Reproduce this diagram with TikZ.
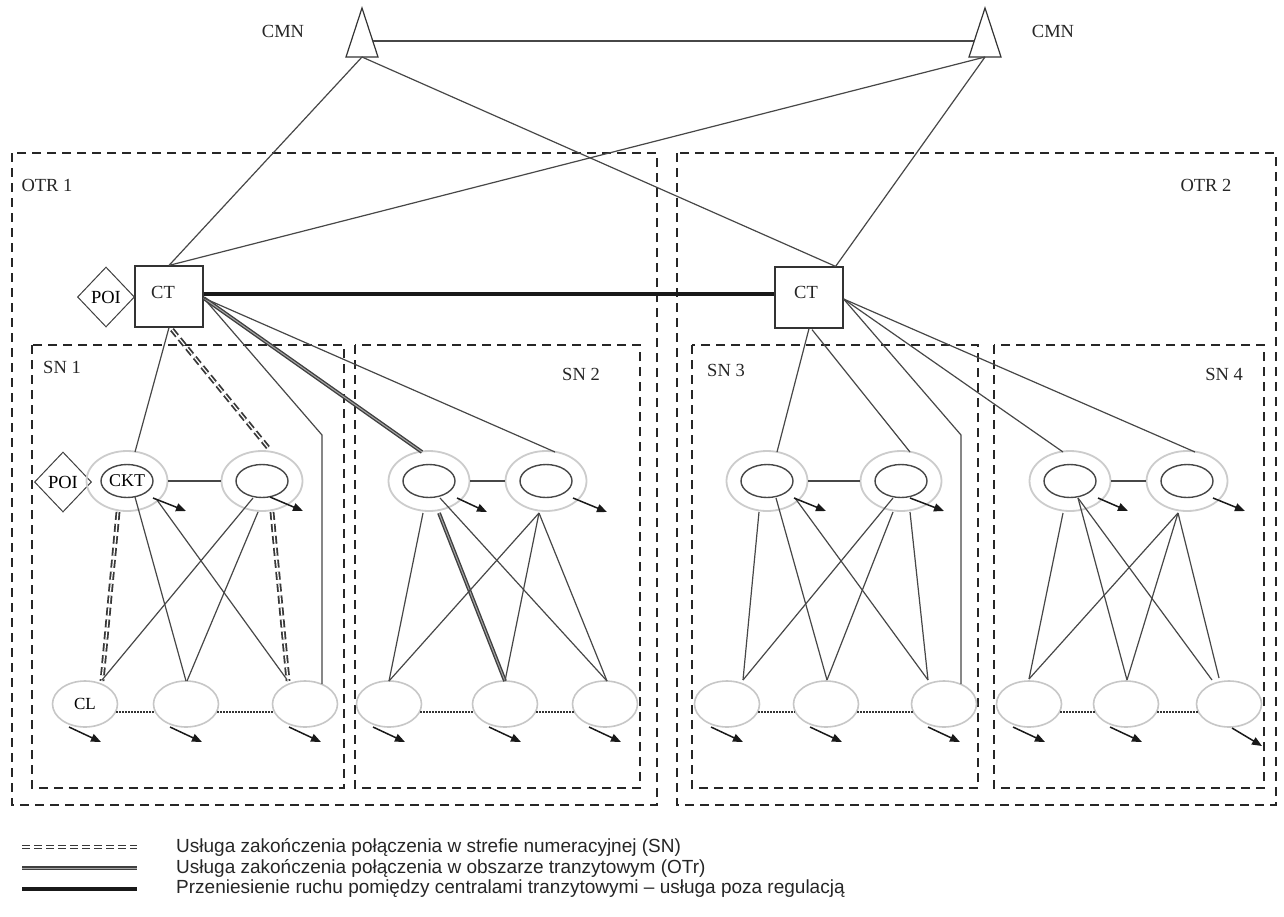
\documentclass[tikz,border=0pt]{standalone}
\usepackage{fontspec}
\setmainfont{Liberation Serif}
\newfontfamily\legendfont{Liberation Sans}
\usetikzlibrary{shapes.geometric,arrows.meta,calc}
\newcommand\ringnode[3]{%
  \node[ring] (#1) at (#2,481) {};
  \node[core] (#1c) at (#2,481) {#3};}
\newcommand\leafnode[3]{%
  \node[leaf] (#1) at (#2,704) {#3};}
\begin{document}
\begin{tikzpicture}[x=1pt,y=-1pt,
  lbl/.style={font=\fontsize{18.5}{18.5}\selectfont, inner sep=0pt, text=black!85},
  zone/.style={draw=black!85, line width=2.6pt, dash pattern=on 9pt off 6pt},
  conn/.style={draw=black!72, line width=1.2pt},
  ring/.style={ellipse, draw=black!20, line width=1.8pt, minimum width=81pt, minimum height=60pt, inner sep=0pt},
  core/.style={ellipse, draw=black!72, line width=1.4pt, minimum width=52pt, minimum height=33pt, inner sep=0pt, font=\fontsize{18}{18}\selectfont},
  leaf/.style={ellipse, draw=black!22, line width=1.6pt, minimum width=65pt, minimum height=46pt, inner sep=0pt, font=\fontsize{17}{17}\selectfont},
  snl/.style={draw=black!78, double=white, double distance=1.2pt, line width=1.8pt, dash pattern=on 8pt off 4pt},
  otrl/.style={draw=black!75, double=black!35, double distance=1pt, line width=1.4pt},
  trunk/.style={draw=black!90, line width=3.8pt},
  outarr/.style={draw=black!90, line width=1.5pt, -{Triangle[length=10pt,width=8pt]}},
  dotl/.style={draw=black!80, line width=1.8pt, dash pattern=on 1.6pt off 1.4pt},
  box/.style={draw=black!80, line width=1.2pt, minimum width=68pt, minimum height=61pt, inner sep=0pt},
  poi/.style={diamond, draw=black!75, line width=1pt, minimum width=57pt, minimum height=60pt, inner sep=0pt, aspect=1, font=\fontsize{18.5}{18.5}\selectfont},
  tri/.style={draw=black!80, line width=1.2pt},
  legtxt/.style={anchor=west, inner sep=0pt, text=black!85, font=\legendfont\fontsize{19}{19}\selectfont},
]
\fill[white] (0,0) rectangle (1284,916);
\useasboundingbox (0,0) rectangle (1284,916);

% zones
\draw[zone] (12,153) rectangle (657,805);
\draw[zone] (677,153) rectangle (1276,805);
\draw[zone] (32,345) rectangle (344,788);
\draw[zone] (355,345) rectangle (640,788);
\draw[zone] (692,345) rectangle (978,788);
\draw[zone] (994,345) rectangle (1264,788);

\node[lbl] at (47,185) {OTR 1};
\node[lbl] at (1206,185) {OTR 2};
\node[lbl] at (62,367) {SN 1};
\node[lbl] at (581,374) {SN 2};
\node[lbl] at (726,370) {SN 3};
\node[lbl] at (1224,374) {SN 4};

% CMN
\draw[tri] (362,8) -- (378,57) -- (346,57) -- cycle;
\draw[tri] (985,8) -- (1001,57) -- (969,57) -- cycle;
\coordinate (cmnL) at (362,57);
\coordinate (cmnR) at (985,57);
\coordinate (cmnLs) at (373,41);
\coordinate (cmnRs) at (974,41);
\node[lbl] at (283,31) {CMN};
\node[lbl] at (1053,31) {CMN};

% CT boxes
\node[box] (ct1) at (169,296.5) {};
\node[box] (ct2) at (809,297.5) {};
\node[lbl] at (163,292) {CT};
\node[lbl] at (806,292) {CT};
\node[poi] (poi1) at (106,297) {POI};
\node[poi] (poi2) at (63,482) {POI};

% rings and leaves
\ringnode{r11}{127}{CKT}
\ringnode{r12}{262}{}
\ringnode{r21}{429}{}
\ringnode{r22}{546}{}
\ringnode{r31}{767}{}
\ringnode{r32}{901}{}
\ringnode{r41}{1070}{}
\ringnode{r42}{1187}{}
\leafnode{l11}{85}{CL}
\leafnode{l12}{186}{}
\leafnode{l13}{305}{}
\leafnode{l21}{389}{}
\leafnode{l22}{505}{}
\leafnode{l23}{605}{}
\leafnode{l31}{727}{}
\leafnode{l32}{826}{}
\leafnode{l33}{944}{}
\leafnode{l41}{1029}{}
\leafnode{l42}{1126}{}
\leafnode{l43}{1229}{}

% CMN links
\draw[conn] (cmnLs) -- (cmnRs);
\draw[conn] (cmnL) -- (ct1.north);
\draw[conn] (cmnR) -- (ct1.north);
\draw[conn] (cmnL) -- ($(ct2.north east)+(-8,0)$);
\draw[conn] (cmnR) -- ($(ct2.north east)+(-8,0)$);

% trunk
\draw[trunk] ($(ct1.east)+(0,-2.5)$) -- ($(ct2.west)+(0,-3.5)$);

% CT1 to SN1/SN2
\draw[conn] (ct1.south) -- ($(r11)+(8,-29)$);
\draw[snl] ($(ct1.south)+(3,2)$) -- ($(r12)+(8,-31)$);
\draw[conn] ($(ct1.east)+(0,1.5)$) -- (322,435) -- ($(l13)+(17,-20)$);
\draw[otrl] ($(ct1.east)+(0,1.5)$) -- ($(r21)+(-7,-29)$);
\draw[conn] ($(ct1.east)+(0,1.5)$) -- ($(r22)+(9,-29)$);

% CT2 to SN3/SN4
\draw[conn] (ct2.south) -- ($(r31)+(10,-29)$);
\draw[conn] ($(ct2.south)+(3,1)$) -- ($(r32)+(9,-29)$);
\draw[conn] ($(ct2.east)+(0,1.5)$) -- (961,435) -- ($(l33)+(17,-20)$);
\draw[conn] ($(ct2.east)+(0,1.5)$) -- ($(r41)+(-7,-29)$);
\draw[conn] ($(ct2.east)+(0,1.5)$) -- ($(r42)+(8,-29)$);

% ring links
\foreach \a/\b in {r11/r12,r21/r22,r31/r32,r41/r42}
  \draw[conn] (\a.east) -- (\b.west);

% SN1 internal
\draw[snl] ($(r11)+(-9,31)$) -- ($(l11)+(17,-23)$);
\draw[conn] ($(r11)+(8,16)$) -- ($(l12)+(0,-23)$);
\draw[conn] ($(r11)+(30,19)$) -- ($(l13)+(-17,-23)$);
\draw[conn] ($(r12)+(-9,17)$) -- ($(l11)+(17,-24)$);
\draw[conn] ($(r12)+(-4,31)$) -- ($(l12)+(1,-23)$);
\draw[snl] ($(r12)+(10,31)$) -- ($(l13)+(-17,-23)$);

% SN2 internal
\draw[conn] ($(r21)+(-6,32)$) -- ($(l21)+(0,-23)$);
\draw[otrl] ($(r21)+(10,32)$) -- ($(l22)+(0,-23)$);
\draw[conn] ($(r21)+(11,17)$) -- ($(l23)+(2,-23)$);
\draw[conn] ($(r22)+(-7,32)$) -- ($(l21)+(0,-23)$);
\draw[conn] ($(r22)+(-7,32)$) -- ($(l22)+(0,-23)$);
\draw[conn] ($(r22)+(-7,32)$) -- ($(l23)+(2,-23)$);

% SN3 internal
\draw[conn] ($(r31)+(-8,31)$) -- ($(l31)+(16,-24)$);
\draw[conn] ($(r31)+(9,17)$) -- ($(l32)+(1,-24)$);
\draw[conn] ($(r31)+(28,17)$) -- ($(l33)+(-16,-24)$);
\draw[conn] ($(r32)+(-8,17)$) -- ($(l31)+(16,-24)$);
\draw[conn] ($(r32)+(-8,31)$) -- ($(l32)+(1,-24)$);
\draw[conn] ($(r32)+(9,31)$) -- ($(l33)+(-16,-24)$);

% SN4 internal
\draw[conn] ($(r41)+(-7,32)$) -- ($(l41)+(0,-25)$);
\draw[conn] ($(r41)+(8,17)$) -- ($(l42)+(1,-24)$);
\draw[conn] ($(r41)+(8,17)$) -- ($(l43)+(-17,-24)$);
\draw[conn] ($(r42)+(-9,32)$) -- ($(l41)+(0,-25)$);
\draw[conn] ($(r42)+(-9,32)$) -- ($(l42)+(1,-24)$);
\draw[conn] ($(r42)+(-9,32)$) -- ($(l43)+(-10,-26)$);

% dotted leaf links
\foreach \a/\b in {l11/l12,l12/l13,l21/l22,l22/l23,l31/l32,l32/l33,l41/l42,l42/l43}
  \draw[dotl] (\a.-15) -- (\b.195);

% outgoing arrows
\draw[outarr] ($(r11)+(26,17)$) -- ($(r11)+(59,30)$);
\draw[outarr] ($(r12)+(8,16)$) -- ($(r12)+(41,30)$);
\draw[outarr] ($(r21)+(28,17)$) -- ($(r21)+(58,31)$);
\draw[outarr] ($(r22)+(27,17)$) -- ($(r22)+(61,31)$);
\draw[outarr] ($(r31)+(27,17)$) -- ($(r31)+(59,30)$);
\draw[outarr] ($(r32)+(9,17)$) -- ($(r32)+(43,30)$);
\draw[outarr] ($(r41)+(28,17)$) -- ($(r41)+(58,30)$);
\draw[outarr] ($(r42)+(26,17)$) -- ($(r42)+(58,30)$);
\foreach \l in {l11,l12,l13,l21,l22,l23,l31,l32,l33,l41,l42}
  \draw[outarr] ($(\l)+(-16,23)$) -- ($(\l)+(16,38)$);
\draw[outarr] ($(l43)+(3,24)$) -- ($(l43)+(33,42)$);

% legend
\coordinate (k1a) at (22,847); \coordinate (k1b) at (137,847);
\coordinate (k2a) at (22,868); \coordinate (k2b) at (137,868);
\coordinate (k3a) at (22,889); \coordinate (k3b) at (137,889);
\draw[snl] (k1a) -- (k1b);
\draw[otrl] (k2a) -- (k2b);
\draw[trunk] (k3a) -- (k3b);
\node[legtxt] at (176,847) {Usługa zakończenia połączenia w strefie numeracyjnej (SN)};
\node[legtxt] at (176,868) {Usługa zakończenia połączenia w obszarze tranzytowym (OTr)};
\node[legtxt] at (176,889) {Przeniesienie ruchu pomiędzy centralami tranzytowymi – usługa poza regulacją};
\end{tikzpicture}
\end{document}
